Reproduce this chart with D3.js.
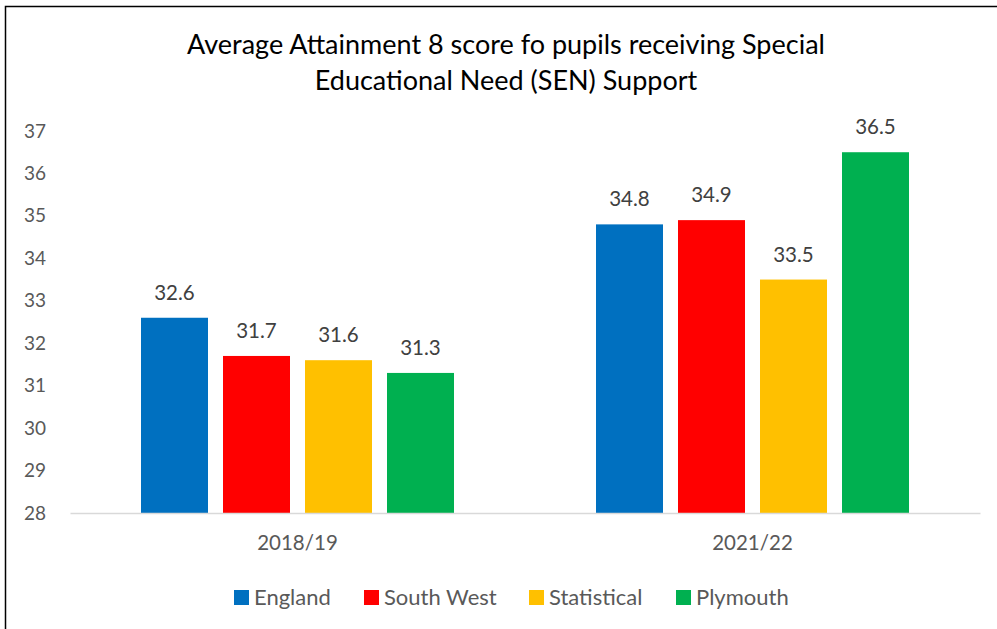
<!DOCTYPE html>
<html>
<head>
<meta charset="utf-8">
<script src="https://cdn.jsdelivr.net/npm/d3@7"></script>
<style>
  body { margin: 0; background: #fff; }
  text { font-family: Lato, "Open Sans", sans-serif; }
</style>
</head>
<body>
<div id="container"></div>
<script>
let years = ["2018/19", "2021/22"];
let series = ["England", "South West", "Statistical", "Plymouth"];
let colors = ["#0070C0", "#FF0000", "#FFC000", "#00B050"];
let england = [32.6, 34.8];
let southWest = [31.7, 34.9];
let statistical = [31.6, 33.5];
let plymouth = [31.3, 36.5];
let yTicks = [28, 29, 30, 31, 32, 33, 34, 35, 36, 37];

let values = [england, southWest, statistical, plymouth];
let rows = [];
years.forEach((yr, i) => {
  series.forEach((s, j) => rows.push({year: yr, series: s, value: values[j][i]}));
});

let svg = d3.select("#container")
  .append("svg")
    .attr("width", 997)
    .attr("height", 629)
;

svg.append("rect")
  .attr("x", 5.5).attr("y", 6.5)
  .attr("width", 1000).attr("height", 700)
  .attr("fill", "none")
  .attr("stroke", "#000")
  .attr("stroke-width", 1.5)
;

let x0 = d3.scaleBand().domain(years).range([70, 980]);
let outer = 71;
let x1 = d3.scaleBand().domain(series)
  .range([outer, x0.bandwidth() - outer])
  .paddingInner(15 / 82);
let y = d3.scaleLinear().domain([28, 37]).range([513, 131]);
let color = d3.scaleOrdinal().domain(series).range(colors);

// title
svg.append("text")
  .attr("x", 506).attr("y", 54)
  .attr("text-anchor", "middle")
  .attr("font-size", 27)
  .attr("fill", "#000")
  .text("Average Attainment 8 score fo pupils receiving Special");
svg.append("text")
  .attr("x", 506).attr("y", 90)
  .attr("text-anchor", "middle")
  .attr("font-size", 27)
  .attr("fill", "#000")
  .text("Educational Need (SEN) Support");

// y axis labels
let yAxis = svg.append("g")
  .attr("transform", "translate(46,0)")
  .call(d3.axisLeft(y).tickValues(yTicks).tickSize(0).tickPadding(0));
yAxis.select(".domain").remove();
yAxis.selectAll("text")
  .attr("font-size", 19)
  .attr("fill", "#595959")
  .attr("font-family", "Lato, 'Open Sans', sans-serif");

// bars
svg.selectAll(".bar").data(rows).enter()
  .append("rect")
    .attr("class", "bar")
    .attr("x", d => x0(d.year) + x1(d.series))
    .attr("y", d => y(d.value))
    .attr("width", x1.bandwidth())
    .attr("height", d => y(28) - y(d.value))
    .attr("fill", d => color(d.series))
;

svg.selectAll(".lbl").data(rows).enter()
  .append("text")
    .attr("class", "lbl")
    .attr("x", d => x0(d.year) + x1(d.series) + x1.bandwidth() / 2)
    .attr("y", d => y(d.value) - 18)
    .attr("text-anchor", "middle")
    .attr("font-size", 20.5)
    .attr("fill", "#404040")
    .text(d => d.value.toFixed(1))
;

// x axis
let xAxis = svg.append("g")
  .attr("transform", "translate(0,513)")
  .call(d3.axisBottom(x0).tickSize(0).tickPadding(22));
xAxis.select(".domain").attr("stroke", "#D9D9D9").attr("stroke-width", 1.5);
xAxis.selectAll("text")
  .attr("font-size", 20.5)
  .attr("fill", "#595959")
  .attr("font-family", "Lato, 'Open Sans', sans-serif");

// legend
let legendX = [234, 364, 529, 676];
let legend = svg.selectAll(".legend").data(series).enter()
  .append("g")
    .attr("class", "legend")
    .attr("transform", (d, i) => "translate(" + legendX[i] + ",590)")
;
legend.append("rect")
  .attr("width", 15).attr("height", 15)
  .attr("fill", d => color(d));
legend.append("text")
  .attr("x", 20).attr("y", 15)
  .attr("font-size", 22)
  .attr("fill", "#595959")
  .text(d => d);
</script>
</body>
</html>
